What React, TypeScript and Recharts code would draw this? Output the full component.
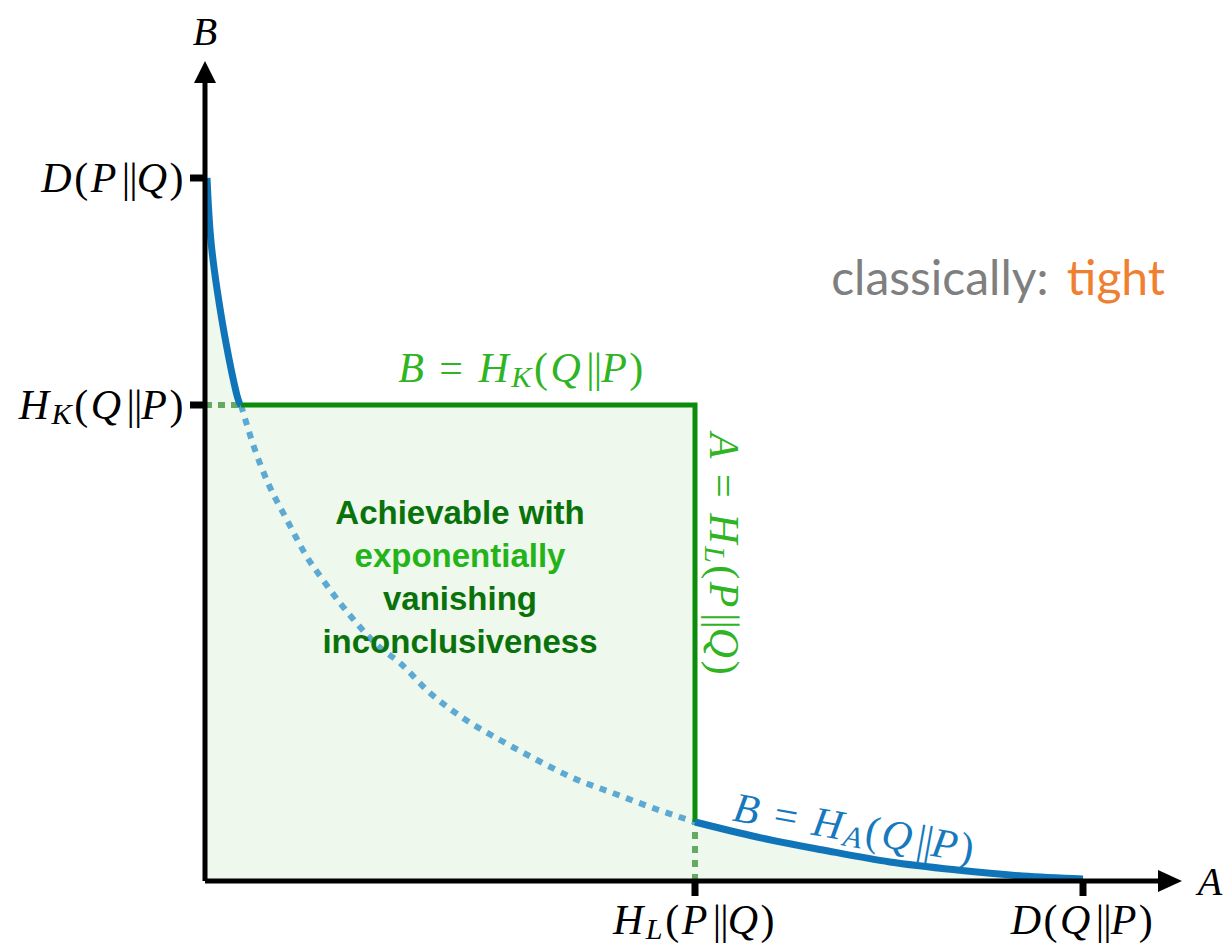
import React from 'react';
import {
  Area,
  ComposedChart,
  Line,
  ReferenceDot,
  XAxis,
  YAxis,
} from 'recharts';

// axis quantities (A to the right, B upwards)
const D_PQ = 7.03; // D(P||Q) on the B axis
const HK_QP = 4.76; // H_K(Q||P) on the B axis
const HL_PQ = 4.9; // H_L(P||Q) on the A axis
const D_QP = 8.78; // D(Q||P) on the A axis
const X_MAX = 9.55;
const Y_MAX = 8.0;

// the trade-off curve B = H_A(Q||P)
const curveHigh = [
  { a: 0.02, b: 7.03 },
  { a: 0.05, b: 6.41 },
  { a: 0.12, b: 5.91 },
  { a: 0.2, b: 5.41 },
  { a: 0.33, b: 4.78 },
  { a: 0.36, b: 4.76 },
];
const curveMid = [
  { a: 0.36, b: 4.76 },
  { a: 0.5, b: 4.31 },
  { a: 0.63, b: 3.98 },
  { a: 0.82, b: 3.61 },
  { a: 1.02, b: 3.24 },
  { a: 1.18, b: 3.01 },
  { a: 1.35, b: 2.78 },
  { a: 1.55, b: 2.54 },
  { a: 1.72, b: 2.36 },
  { a: 1.95, b: 2.18 },
  { a: 2.25, b: 1.88 },
  { a: 2.58, b: 1.63 },
  { a: 2.95, b: 1.41 },
  { a: 3.32, b: 1.21 },
  { a: 3.68, b: 1.03 },
  { a: 4.08, b: 0.88 },
  { a: 4.48, b: 0.73 },
  { a: 4.9, b: 0.59 },
];
const curveLow = [
  { a: 4.9, b: 0.59 },
  { a: 5.52, b: 0.44 },
  { a: 6.18, b: 0.31 },
  { a: 6.85, b: 0.19 },
  { a: 7.52, b: 0.11 },
  { a: 8.18, b: 0.05 },
  { a: 8.78, b: 0.02 },
];

// achievable region: below the upper envelope
const regionTop = [
  { a: 0, b: 7.03 },
  ...curveHigh,
  { a: 4.9, b: 4.76 },
  ...curveLow,
];
const boxEdge = [
  { a: 0.36, b: 4.76 },
  { a: 4.9, b: 4.76 },
  { a: 4.9, b: 0.59 },
];
const guideLeft = [
  { a: 0, b: 4.76 },
  { a: 0.36, b: 4.76 },
];
const guideDown = [
  { a: 4.9, b: 0 },
  { a: 4.9, b: 0.59 },
];

// labels: [text, style] with i = italic, n = upright, s = subscript, p = double bar
type Part = [string, 'i' | 'n' | 's' | 'p'];
const PAR: Part = ['||', 'p'];
const EQ = '\u2005=\u2005';
const yTickLabels: Record<string, Part[]> = {
  [D_PQ]: [['D', 'i'], ['(', 'n'], ['P', 'i'], PAR, ['Q', 'i'], [')', 'n']],
  [HK_QP]: [['H', 'i'], ['K', 's'], ['(', 'n'], ['Q', 'i'], PAR, ['P', 'i'], [')', 'n']],
};
const xTickLabels: Record<string, Part[]> = {
  [HL_PQ]: [['H', 'i'], ['L', 's'], ['(', 'n'], ['P', 'i'], PAR, ['Q', 'i'], [')', 'n']],
  [D_QP]: [['D', 'i'], ['(', 'n'], ['Q', 'i'], PAR, ['P', 'i'], [')', 'n']],
};
const labelHK: Part[] = [['B', 'i'], [EQ, 'n'], ['H', 'i'], ['K', 's'], ['(', 'n'], ['Q', 'i'], PAR, ['P', 'i'], [')', 'n']];
const labelHL: Part[] = [['A', 'i'], [EQ, 'n'], ['H', 'i'], ['L', 's'], ['(', 'n'], ['P', 'i'], PAR, ['Q', 'i'], [')', 'n']];
const labelHA: Part[] = [['B', 'i'], [EQ, 'n'], ['H', 'i'], ['A', 's'], ['(', 'n'], ['Q', 'i'], PAR, ['P', 'i'], [')', 'n']];
const regionLines = ['Achievable with', 'exponentially', 'vanishing', 'inconclusiveness'];

const SERIF = '"Liberation Serif", "DejaVu Serif", serif';
const SANS = '"Liberation Sans", Arial, sans-serif';

const renderParts = (parts: Part[], size: number) => {
  const out: React.ReactNode[] = [];
  let down = false;
  parts.forEach(([t, s], i) => {
    const sub = s === 's';
    const dy = sub && !down ? size * 0.22 : !sub && down ? -size * 0.22 : 0;
    down = sub;
    out.push(
      <tspan
        key={i}
        dy={dy}
        dx={s === 'p' ? 3 : 0}
        letterSpacing={s === 'p' ? -1 : 2.5}
        fontStyle={s === 'n' || s === 'p' ? 'normal' : 'italic'}
        fontSize={sub ? size * 0.72 : size}
      >
        {t}
      </tspan>
    );
  });
  return out;
};

const MathText = ({ x, y, parts, size = 42, fill = '#000', anchor = 'middle', rotate = 0 }: any) => (
  <text
    x={x}
    y={y}
    fill={fill}
    fontFamily={SERIF}
    fontSize={size}
    textAnchor={anchor}
    dominantBaseline="central"
    transform={rotate ? `rotate(${rotate}, ${x}, ${y})` : undefined}
  >
    {renderParts(parts, size)}
  </text>
);

const YTick = (props: any) => {
  const { x, y, payload } = props;
  return <MathText x={x - 2} y={y} parts={yTickLabels[payload.value]} anchor="end" />;
};

const XTick = (props: any) => {
  const { x, y, payload } = props;
  return <MathText x={x} y={y + 22} parts={xTickLabels[payload.value]} />;
};

export default function App() {
  return (
    <div style={{ position: 'absolute', left: 0, top: 0, background: '#fff' }}>
      <ComposedChart
        width={1227}
        height={947}
        data={regionTop}
        margin={{ top: 81, right: 67, bottom: 65, left: 204 }}
      >
        <XAxis
          type="number"
          dataKey="a"
          domain={[0, X_MAX]}
          ticks={[HL_PQ, D_QP]}
          height={1}
          axisLine={{ stroke: '#000', strokeWidth: 5 }}
          tickLine={{ stroke: '#000', strokeWidth: 7 }}
          tickSize={15}
          tick={<XTick />}
          allowDataOverflow
        />
        <YAxis
          type="number"
          dataKey="b"
          domain={[0, Y_MAX]}
          ticks={[HK_QP, D_PQ]}
          width={1}
          axisLine={{ stroke: '#000', strokeWidth: 5 }}
          tickLine={{ stroke: '#000', strokeWidth: 7 }}
          tickSize={15}
          tick={<YTick />}
          allowDataOverflow
        />
        <Area
          dataKey="b"
          type="linear"
          stroke="none"
          fill="#eef8ec"
          fillOpacity={1}
          isAnimationActive={false}
        />
        <Line data={guideLeft} dataKey="b" type="linear" stroke="#65aa62" strokeWidth={6} strokeDasharray="7 6" dot={false} isAnimationActive={false} />
        <Line data={guideDown} dataKey="b" type="linear" stroke="#65aa62" strokeWidth={6} strokeDasharray="7 7" dot={false} isAnimationActive={false} />
        <Line data={curveMid} dataKey="b" type="monotone" stroke="#5ca9d4" strokeWidth={6} strokeDasharray="7 7" dot={false} isAnimationActive={false} />
        <Line data={boxEdge} dataKey="b" type="linear" stroke="#0b8c0b" strokeWidth={5} strokeLinejoin="miter" dot={false} isAnimationActive={false} />
        <Line data={curveHigh} dataKey="b" type="basis" stroke="#0f74b8" strokeWidth={7} dot={false} isAnimationActive={false} />
        <Line data={curveLow} dataKey="b" type="monotone" stroke="#0f74b8" strokeWidth={7} dot={false} isAnimationActive={false} />

        {/* axis arrows and names */}
        <ReferenceDot
          x={X_MAX}
          y={0}
          ifOverflow="visible"
          shape={({ cx, cy }: any) => (
            <g>
              <polygon points={`${cx - 2},${cy - 11} ${cx + 22},${cy} ${cx - 2},${cy + 11}`} fill="#000" />
              <text x={cx + 50} y={cy} fontFamily={SERIF} fontStyle="italic" fontSize={40} textAnchor="middle" dominantBaseline="central">A</text>
            </g>
          )}
        />
        <ReferenceDot
          x={0}
          y={Y_MAX}
          ifOverflow="visible"
          shape={({ cx, cy }: any) => (
            <g>
              <polygon points={`${cx - 11},${cy + 2} ${cx},${cy - 20} ${cx + 11},${cy + 2}`} fill="#000" />
              <text x={cx} y={cy - 50} fontFamily={SERIF} fontStyle="italic" fontSize={40} textAnchor="middle" dominantBaseline="central">B</text>
            </g>
          )}
        />

        {/* annotations */}
        <ReferenceDot
          x={3.17}
          y={5.13}
          ifOverflow="visible"
          shape={({ cx, cy }: any) => <MathText x={cx} y={cy} parts={labelHK} fill="#2fb423" />}
        />
        <ReferenceDot
          x={5.19}
          y={3.26}
          ifOverflow="visible"
          shape={({ cx, cy }: any) => <MathText x={cx} y={cy} parts={labelHL} fill="#2fb423" rotate={90} />}
        />
        <ReferenceDot
          x={6.5}
          y={0.53}
          ifOverflow="visible"
          shape={({ cx, cy }: any) => <MathText x={cx} y={cy} parts={labelHA} fill="#1679bd" rotate={10} />}
        />
        <ReferenceDot
          x={2.55}
          y={3.69}
          ifOverflow="visible"
          shape={({ cx, cy }: any) => (
            <text x={cx} y={cy} fontFamily={SANS} fontWeight="bold" fontSize={33} textAnchor="middle" dominantBaseline="central">
              {regionLines.map((t, i) => (
                <tspan key={i} x={cx} dy={i === 0 ? 0 : 43} fill={i === 1 ? '#25b31a' : '#0a720a'}>{t}</tspan>
              ))}
            </text>
          )}
        />
        <ReferenceDot
          x={9.6}
          y={6.05}
          ifOverflow="visible"
          shape={({ cx, cy }: any) => (
            <text x={cx} y={cy} fontFamily="Lato, sans-serif" fontSize={48} textAnchor="end" dominantBaseline="central">
              <tspan fill="#7f7f7f">classically: </tspan>
              <tspan fill="#ef7f31" dx={6}>tight</tspan>
            </text>
          )}
        />
      </ComposedChart>
    </div>
  );
}
